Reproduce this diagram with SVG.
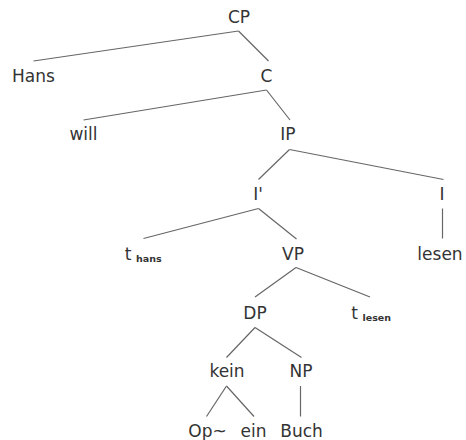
<svg xmlns="http://www.w3.org/2000/svg" width="466" height="440" viewBox="0 0 466 440">
<style>
.t{font-family:"DejaVu Sans",sans-serif;font-size:17px;fill:#333;text-anchor:middle}
.s{font-family:"DejaVu Sans",sans-serif;font-size:9.5px;font-weight:bold;fill:#333}
.e line{stroke:#666;stroke-width:1.2}
</style>
<rect width="466" height="440" fill="#fff"/>
<g id="edges" class="e">
<line x1="238.5" y1="31" x2="33.5" y2="61"/>
<line x1="238.5" y1="31" x2="268.5" y2="61"/>
<line x1="266.5" y1="90" x2="83.5" y2="120"/>
<line x1="266.5" y1="90" x2="290" y2="120"/>
<line x1="289.5" y1="149.5" x2="258.5" y2="179.5"/>
<line x1="289.5" y1="149.5" x2="443.5" y2="179.5"/>
<line x1="258.5" y1="208.5" x2="143.5" y2="238.5"/>
<line x1="258.5" y1="208.5" x2="296.5" y2="239"/>
<line x1="442.5" y1="208.5" x2="442.5" y2="238.5"/>
<line x1="296" y1="267.5" x2="255" y2="297"/>
<line x1="296" y1="267.5" x2="370" y2="297"/>
<line x1="255" y1="327.5" x2="226.5" y2="357.5"/>
<line x1="255" y1="327.5" x2="301.5" y2="357.5"/>
<line x1="226.5" y1="386" x2="206.5" y2="416.5"/>
<line x1="226.5" y1="386" x2="254" y2="416.5"/>
<line x1="300.5" y1="386" x2="300.5" y2="416.5"/>
</g>
<g id="n-CP"><text class="t" x="239" y="22.5">CP</text></g>
<g id="n-Hans"><text class="t" x="33.5" y="81.5">Hans</text></g>
<g id="n-C"><text class="t" x="266.5" y="81.5">C</text></g>
<g id="n-will"><text class="t" x="83.5" y="140">will</text></g>
<g id="n-IP"><text class="t" x="288" y="140">IP</text></g>
<g id="n-I1"><text class="t" x="258" y="199.5">I'</text></g>
<g id="n-I"><text class="t" x="442" y="199.5">I</text></g>
<g id="n-thans"><text class="t" x="128" y="259.5">t</text><text class="s" x="136" y="261.5">hans</text></g>
<g id="n-VP"><text class="t" x="293" y="259.5">VP</text></g>
<g id="n-lesen"><text class="t" x="440" y="259.5">lesen</text></g>
<g id="n-DP"><text class="t" x="255" y="318.5">DP</text></g>
<g id="n-tlesen"><text class="t" x="354.5" y="319">t</text><text class="s" x="362.5" y="321">lesen</text></g>
<g id="n-kein"><text class="t" x="227" y="377">kein</text></g>
<g id="n-NP"><text class="t" x="301" y="377">NP</text></g>
<g id="n-Op"><text class="t" x="207.5" y="437">Op~</text></g>
<g id="n-ein"><text class="t" x="253.5" y="437">ein</text></g>
<g id="n-Buch"><text class="t" x="301.5" y="437">Buch</text></g>
</svg>
